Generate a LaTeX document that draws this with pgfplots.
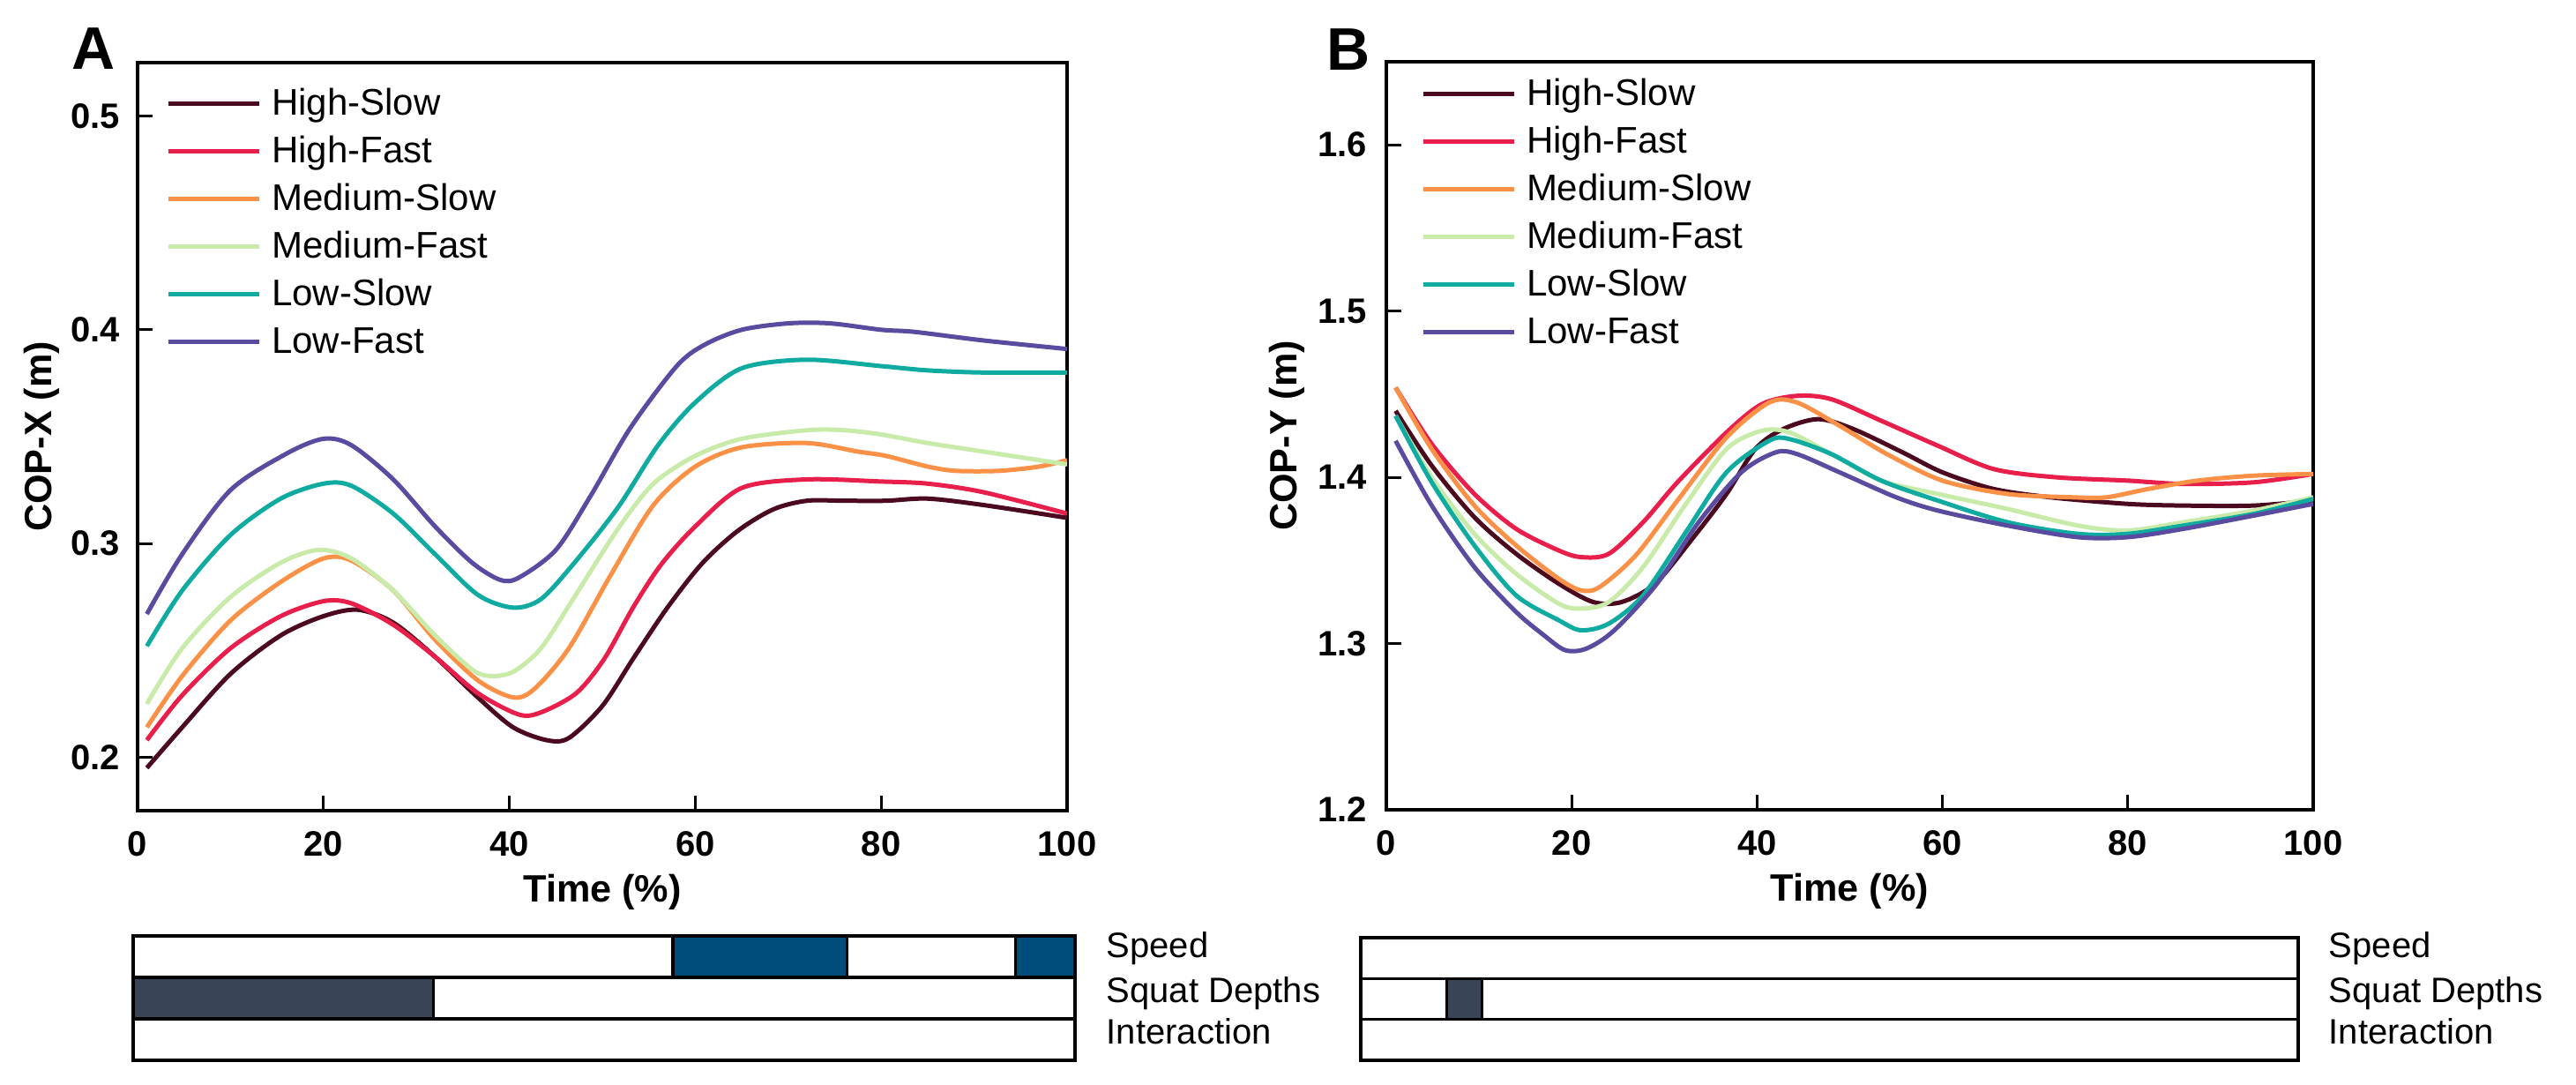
\documentclass[border=0pt]{standalone}
\usepackage{fontspec}
\setmainfont{Liberation Sans}
\usepackage{pgfplots}
\pgfplotsset{compat=1.18}
\definecolor{cHS}{RGB}{75,10,30}
\definecolor{cHF}{RGB}{232,30,75}
\definecolor{cMS}{RGB}{250,145,70}
\definecolor{cMF}{RGB}{200,235,170}
\definecolor{cLS}{RGB}{15,170,160}
\definecolor{cLF}{RGB}{90,75,160}
\definecolor{barblue}{RGB}{0,76,122}
\definecolor{bardark}{RGB}{57,69,87}
\pgfplotsset{
  legend image code/.code={\draw[#1, line width=1.25pt] (0pt,0.5pt) -- (25.75pt,0.5pt);},
  mainax/.style={scale only axis, anchor=south west, xmin=0, xmax=100,
    xtick={0,20,40,60,80,100}, tick align=inside, xtick pos=left, ytick pos=left,
    major tick length=4.25pt, axis line style={line width=0.8pt},
    major tick style={black, line width=0.8pt},
    tick label style={font=\fontsize{10}{12}\selectfont\bfseries, inner sep=0pt},
    /pgf/number format/assume math mode=true,
    xticklabel style={anchor=base, yshift=-13pt},
    label style={font=\fontsize{10.8}{13}\selectfont\bfseries, inner sep=0pt},
    xlabel={Time (\%)},
    xlabel style={at={(axis description cs:0.5,0)}, anchor=base, yshift=-26pt},
    legend cell align=left,
    legend style={draw=none, fill=none, anchor=north west, inner sep=0pt, outer sep=0pt,
      row sep=0pt, column sep=3pt, font=\fontsize{10.5}{12}\selectfont,
      nodes={inner sep=0pt, text height=9.5pt, text depth=4pt}},
    every axis plot/.append style={line width=1.25pt, smooth}},
  barax/.style={scale only axis, anchor=south west, xmin=0, xmax=100, ymin=0, ymax=3,
    xtick=\empty, ytick={1,2}, yticklabels={}, ymajorgrids, major tick length=0pt,
    grid style={black, line width=0.8pt}, axis line style={line width=0.8pt}}
}
\begin{document}
\begin{tikzpicture}
\useasboundingbox (0,0) rectangle (730.25pt,307.5pt);
% ---------------- Panel A ----------------
\begin{axis}[mainax, at={(39pt,77.75pt)}, width=263.5pt, height=212pt,
  ymin=0.175, ymax=0.525, ytick={0.2,0.3,0.4,0.5}, yticklabels={0.2,0.3,0.4,0.5},
  yticklabel style={anchor=east, xshift=-4.75pt},
  ylabel={COP-X (m)}, ylabel style={at={(axis description cs:-0.0835,0.5)}, anchor=south},
  legend style={at={(axis description cs:0.0304,0.9748)}}]
\addplot[cHS] coordinates {(1,0.195) (4.8,0.214) (10,0.239) (15.4,0.257) (20,0.266) (23.7,0.269) (27.5,0.263) (32,0.247) (36.6,0.228) (40.4,0.214) (44,0.208) (46.4,0.209) (50,0.224) (53.3,0.246) (57,0.270) (60.8,0.291) (64.6,0.306) (68.4,0.316) (72,0.320) (76,0.320) (80.5,0.320) (85,0.321) (91,0.318) (100,0.312)};
\addlegendentry{High-Slow}
\addplot[cHF] coordinates {(1,0.208) (4.8,0.229) (10,0.251) (15.4,0.266) (20,0.273) (23,0.272) (27.5,0.262) (32,0.247) (36.6,0.230) (41,0.220) (43.4,0.221) (47.2,0.230) (50.2,0.246) (53.3,0.270) (56.3,0.290) (60,0.308) (65,0.326) (72,0.330) (80,0.329) (85,0.328) (91,0.324) (100,0.314)};
\addlegendentry{High-Fast}
\addplot[cMS] coordinates {(1,0.214) (4.8,0.238) (10,0.264) (15.4,0.282) (20,0.293) (23,0.292) (27.5,0.278) (32,0.255) (36.6,0.236) (40.4,0.228) (42.7,0.232) (46.4,0.251) (51,0.286) (55.5,0.318) (60,0.336) (65,0.345) (72,0.347) (77.5,0.343) (80.5,0.341) (85,0.336) (88,0.334) (92.7,0.334) (97,0.336) (100,0.339)};
\addlegendentry{Medium-Slow}
\addplot[cMF] coordinates {(1,0.225) (4.8,0.251) (10,0.275) (15.4,0.291) (19.5,0.297) (23,0.293) (27.5,0.278) (32,0.257) (36,0.241) (38,0.238) (40.4,0.240) (43.4,0.251) (47,0.275) (51.7,0.307) (55.5,0.328) (60,0.341) (65,0.349) (72,0.353) (76,0.353) (80,0.351) (85,0.347) (91,0.343) (100,0.337)};
\addlegendentry{Medium-Fast}
\addplot[cLS] coordinates {(1,0.252) (4.8,0.278) (10,0.304) (15.4,0.321) (20,0.328) (23,0.327) (27.5,0.314) (32,0.295) (36.6,0.276) (40.4,0.270) (43.4,0.274) (47,0.291) (51.7,0.317) (56,0.346) (60,0.366) (65,0.382) (72,0.386) (80,0.383) (85,0.381) (91,0.380) (100,0.380)};
\addlegendentry{Low-Slow}
\addplot[cLF] coordinates {(1,0.267) (4.8,0.295) (10,0.325) (16,0.342) (20,0.349) (23,0.346) (27.5,0.330) (32,0.308) (36,0.291) (39,0.283) (41,0.284) (45,0.297) (48.7,0.322) (53,0.354) (58,0.383) (61,0.393) (65,0.400) (70,0.403) (74.5,0.403) (80,0.400) (83.6,0.399) (91,0.395) (100,0.391)};
\addlegendentry{Low-Fast}
\end{axis}
% ---------------- Panel B ----------------
\begin{axis}[mainax, at={(393pt,78pt)}, width=262.75pt, height=212pt,
  ymin=1.2, ymax=1.65, ytick={1.2,1.3,1.4,1.5,1.6}, yticklabels={1.2,1.3,1.4,1.5,1.6},
  yticklabel style={anchor=east, xshift=-5.25pt},
  ylabel={COP-Y (m)}, ylabel style={at={(axis description cs:-0.0875,0.5)}, anchor=south},
  legend style={at={(axis description cs:0.0371,0.9866)}}]
\addplot[cHS] coordinates {(1,1.440) (4.9,1.407) (9.5,1.376) (14,1.354) (18.6,1.336) (22.3,1.325) (25.4,1.325) (29,1.336) (33,1.363) (36.7,1.390) (39.8,1.417) (42.8,1.429) (46.6,1.435) (50.4,1.429) (55.7,1.415) (60,1.403) (65.5,1.393) (71.6,1.388) (80,1.384) (86,1.383) (93.6,1.383) (100,1.386)};
\addlegendentry{High-Slow}
\addplot[cHF] coordinates {(1,1.454) (4.9,1.420) (9.5,1.390) (14,1.369) (18.6,1.356) (21,1.352) (24,1.354) (27.7,1.373) (31.4,1.397) (36.7,1.427) (40.5,1.444) (44.3,1.449) (48,1.447) (53.4,1.434) (59.5,1.419) (65.5,1.405) (72.3,1.400) (80,1.398) (86,1.396) (93.6,1.397) (100,1.402)};
\addlegendentry{High-Fast}
\addplot[cMS] coordinates {(1,1.454) (4.9,1.417) (9.5,1.383) (14,1.359) (18.6,1.339) (21,1.332) (23,1.334) (26.9,1.353) (31.4,1.386) (36.7,1.424) (41.3,1.445) (44.3,1.445) (48.9,1.431) (54,1.414) (60,1.398) (67,1.390) (73.9,1.388) (77.7,1.388) (82.2,1.393) (87.5,1.398) (93.6,1.401) (100,1.402)};
\addlegendentry{Medium-Slow}
\addplot[cMF] coordinates {(1,1.437) (4.9,1.400) (9.5,1.366) (14,1.342) (18.6,1.324) (21,1.321) (24,1.325) (27.7,1.346) (32.2,1.383) (36.7,1.417) (40.5,1.428) (43.5,1.427) (48,1.414) (53.4,1.398) (59.5,1.390) (67,1.381) (74.6,1.371) (80,1.368) (86,1.373) (93.6,1.380) (100,1.388)};
\addlegendentry{Medium-Fast}
\addplot[cLS] coordinates {(1,1.437) (4.9,1.397) (9.5,1.359) (14,1.329) (18.6,1.314) (21,1.308) (24,1.312) (27.7,1.329) (32.2,1.366) (36.7,1.403) (41.3,1.422) (43.5,1.423) (48,1.414) (53.4,1.398) (59.5,1.386) (67,1.373) (74.6,1.366) (80,1.366) (86,1.371) (93.6,1.378) (100,1.387)};
\addlegendentry{Low-Slow}
\addplot[cLF] coordinates {(1,1.422) (4.9,1.383) (9.5,1.346) (14,1.319) (17,1.305) (19.3,1.296) (21.6,1.297) (24.6,1.308) (29.2,1.336) (33.7,1.373) (38.3,1.403) (42,1.415) (44.3,1.414) (48.9,1.403) (55,1.388) (59.5,1.380) (67,1.371) (74.6,1.364) (80,1.364) (86,1.369) (93.6,1.377) (100,1.384)};
\addlegendentry{Low-Fast}
\end{axis}
% ---------------- Significance bars A ----------------
\begin{axis}[barax, at={(37.75pt,7pt)}, width=267pt, height=35.25pt]
\addplot[fill=barblue, draw=black, line width=0.8pt] coordinates {(57.3,2) (75.8,2) (75.8,3) (57.3,3) (57.3,2)};
\addplot[fill=barblue, draw=black, line width=0.8pt] coordinates {(93.7,2) (100,2) (100,3) (93.7,3) (93.7,2)};
\addplot[fill=bardark, draw=black, line width=0.8pt] coordinates {(0,1) (31.9,1) (31.9,2) (0,2) (0,1)};
\end{axis}
% ---------------- Significance bars B ----------------
\begin{axis}[barax, at={(385.75pt,7pt)}, width=265.75pt, height=34.75pt]
\addplot[fill=bardark, draw=black, line width=0.8pt] coordinates {(9.2,1) (12.9,1) (12.9,2) (9.2,2) (9.2,1)};
\end{axis}
% ---------------- Texts ----------------
\begin{scope}[every node/.style={inner sep=0pt, anchor=base west, font=\fontsize{10}{12}\selectfont}]
\node at (313.5pt,36pt) {Speed};
\node at (313.5pt,23.25pt) {Squat Depths};
\node at (313.5pt,11.5pt) {Interaction};
\node at (660pt,36pt) {Speed};
\node at (660pt,23.25pt) {Squat Depths};
\node at (660pt,11.5pt) {Interaction};
\end{scope}
\node[inner sep=0pt, anchor=base west, font=\fontsize{17}{20}\selectfont\bfseries] at (20.25pt,287.75pt) {A};
\node[inner sep=0pt, anchor=base west, font=\fontsize{17}{20}\selectfont\bfseries] at (376pt,287.5pt) {B};
\end{tikzpicture}
\end{document}
